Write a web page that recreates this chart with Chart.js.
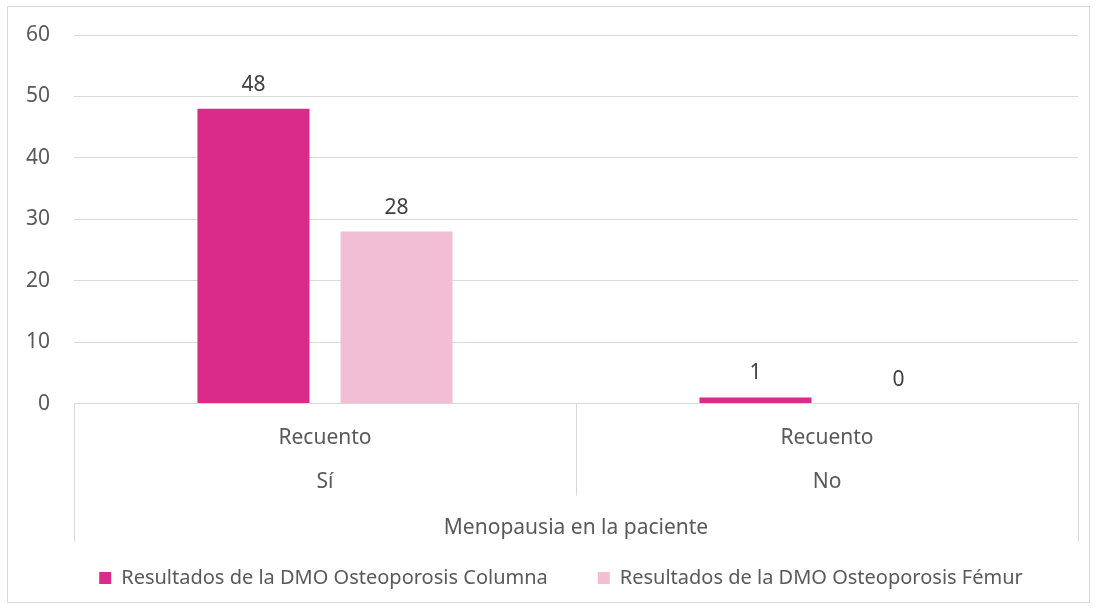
<!DOCTYPE html>
<html>
<head>
<meta charset="utf-8">
<script src="https://cdn.jsdelivr.net/npm/chart.js@4.4.1/dist/chart.umd.min.js"></script>
<style>
  body { margin: 0; background: #fff; }
  #box {
    position: absolute; left: 7px; top: 6px;
    width: 1083px; height: 597px;
    border: 1px solid #d9d9d9; box-sizing: border-box;
  }
  #chart { display: block; }
</style>
</head>
<body>
<div id="box"><canvas id="chart" width="1081" height="595"></canvas></div>
<script>
// Data
const categories = [["Recuento", "Sí"], ["Recuento", "No"]];
const groupTitle = "Menopausia en la paciente";
const columna = [48, 1];
const femur = [28, 0];
const seriesNames = [
  "Resultados de la DMO Osteoporosis Columna",
  "Resultados de la DMO Osteoporosis Fémur"
];

const FONT = "'Noto Sans', sans-serif";
const TEXT = "#595959";

// value labels above bars
const valueLabels = {
  id: "valueLabels",
  afterDatasetsDraw(chart) {
    const ctx = chart.ctx;
    ctx.save();
    ctx.font = "21px " + FONT;
    ctx.fillStyle = "#404040";
    ctx.textAlign = "center";
    ctx.textBaseline = "middle";
    chart.data.datasets.forEach((ds, i) => {
      chart.getDatasetMeta(i).data.forEach((bar, j) => {
        ctx.fillText(ds.data[j], bar.x, bar.y - 24);
      });
    });
    ctx.restore();
  }
};

// multi-level category separators
const separators = {
  id: "separators",
  afterLayout(chart) {
    // let y tick labels use the space left of the axis box
    chart.scales.y.left = 0;
  },
  afterDraw(chart) {
    const x = chart.scales.x;
    const ctx = chart.ctx;
    const mid = (x.getPixelForValue(0) + x.getPixelForValue(1)) / 2;
    ctx.save();
    ctx.strokeStyle = "#d9d9d9";
    ctx.lineWidth = 1;
    ctx.beginPath();
    ctx.moveTo(Math.round(x.left) + 0.5, x.top);
    ctx.lineTo(Math.round(x.left) + 0.5, x.top + 138);
    ctx.moveTo(Math.round(x.right) + 0.5, x.top);
    ctx.lineTo(Math.round(x.right) + 0.5, x.top + 138);
    ctx.moveTo(Math.round(mid) + 0.5, x.top);
    ctx.lineTo(Math.round(mid) + 0.5, x.top + 92);
    ctx.stroke();
    ctx.restore();
  }
};

const ctx = document.getElementById("chart").getContext("2d");
const chart = new Chart(ctx, {
  type: "bar",
  data: {
    labels: categories,
    datasets: [
      {
        label: seriesNames[0],
        data: columna,
        backgroundColor: "#da2a8a",
        categoryPercentage: 0.57,
        barPercentage: 0.783
      },
      {
        label: seriesNames[1],
        data: femur,
        backgroundColor: "#f2bed3",
        categoryPercentage: 0.57,
        barPercentage: 0.783
      }
    ]
  },
  options: {
    responsive: false,
    animation: false,
    layout: { padding: { top: 28, right: 11, left: 36, bottom: 4 } },
    plugins: {
      tooltip: { enabled: false },
      legend: {
        position: "bottom",
        labels: {
          color: TEXT,
          font: { family: FONT, size: 20 },
          boxWidth: 12,
          boxHeight: 12,
          padding: 50
        }
      }
    },
    scales: {
      x: {
        grid: { display: false },
        border: { display: true, color: "#d9d9d9" },
        ticks: {
          color: TEXT,
          font: { family: FONT, size: 21, lineHeight: 2.1 },
          padding: 4,
          maxRotation: 0
        },
        title: {
          display: true,
          text: groupTitle,
          color: TEXT,
          font: { family: FONT, size: 21 },
          padding: { top: 8, bottom: -23 }
        }
      },
      y: {
        min: 0,
        max: 60,
        afterFit(scale) {
          scale.width = 30;
          scale.paddingTop = 0;
          scale.paddingBottom = 0;
        },
        grid: { color: "#d9d9d9", drawTicks: false },
        border: { display: false },
        ticks: {
          stepSize: 10,
          color: TEXT,
          font: { family: FONT, size: 21 },
          padding: 24
        }
      }
    }
  },
  plugins: [valueLabels, separators]
});
</script>
</body>
</html>
